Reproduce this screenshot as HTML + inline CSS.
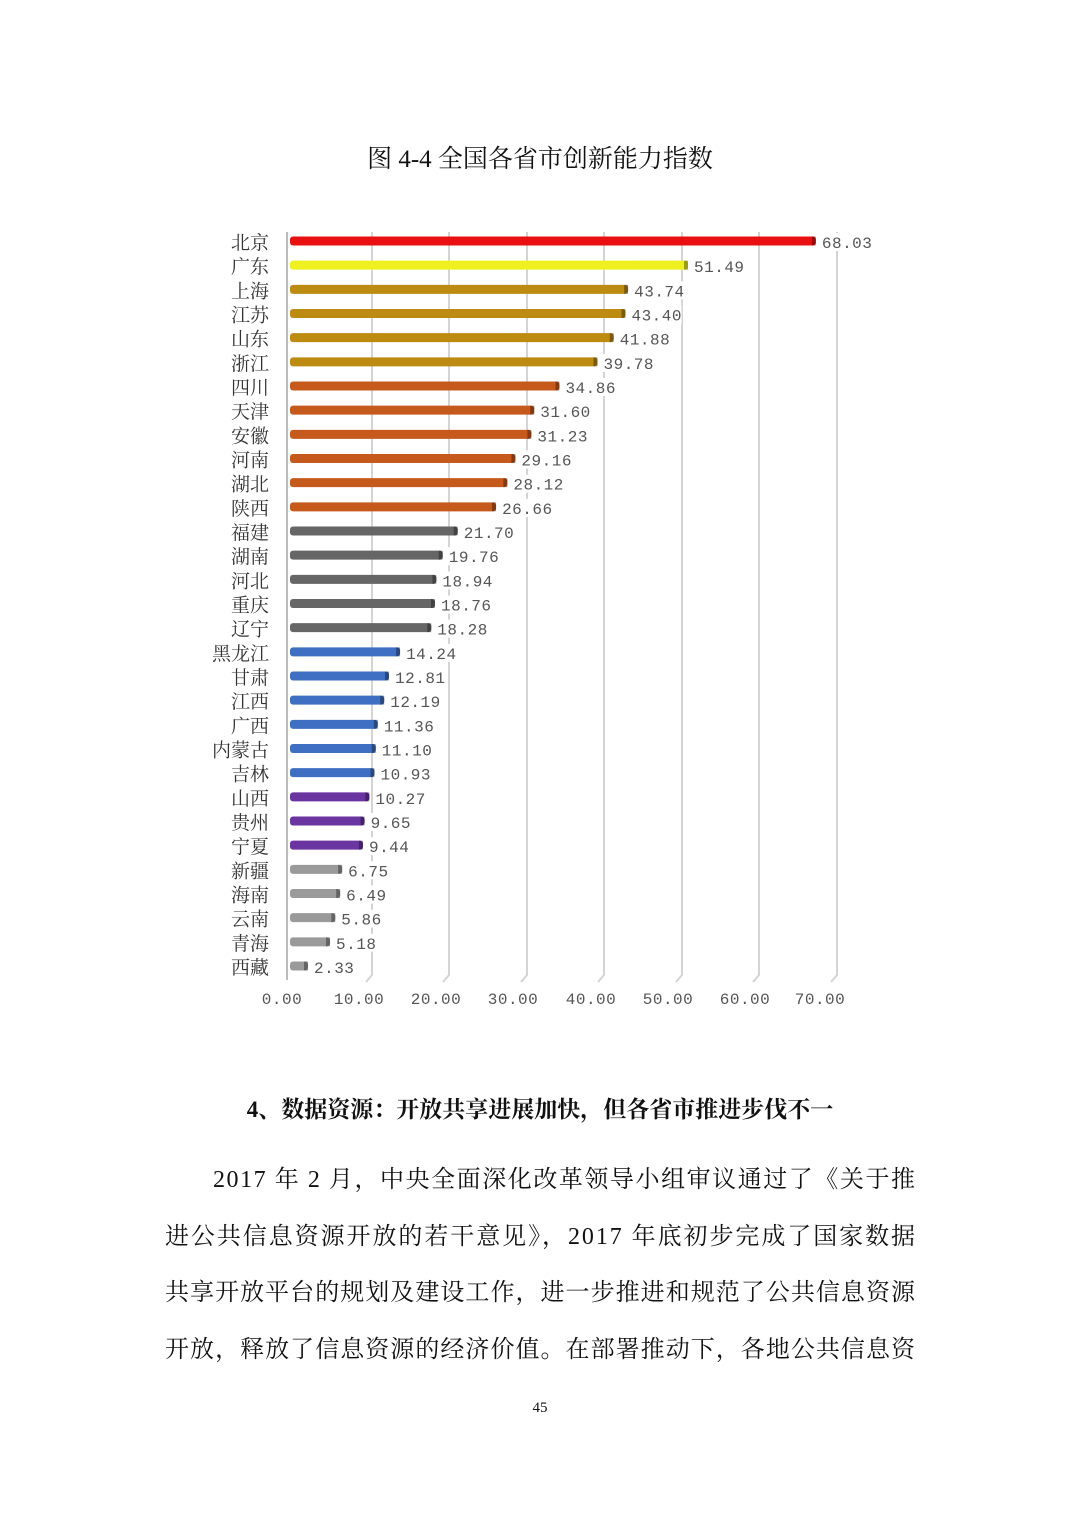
<!DOCTYPE html>
<html><head><meta charset="utf-8"><style>
html,body{margin:0;padding:0;background:#fff}
svg{display:block}
.c{font-family:"Liberation Serif","Noto Serif CJK SC",serif;font-size:19px;fill:#333}
.v{font-family:"Liberation Mono","Noto Sans CJK SC",monospace;font-size:16px;fill:#555;letter-spacing:0.5px}
.t{font-family:"Liberation Serif","Noto Serif CJK SC",serif;fill:#111}
</style></head><body>
<svg width="1080" height="1527" viewBox="0 0 1080 1527" xmlns="http://www.w3.org/2000/svg">
<text class="t" x="540" y="167" font-size="25" text-anchor="middle">图 4-4 全国各省市创新能力指数</text>
<g stroke="#d4d4d4" stroke-width="2" fill="none">
<line x1="287" y1="232" x2="287" y2="980" stroke="#bbb"/>
<polyline points="372,232 372,975 366,982"/>
<polyline points="449,232 449,975 443,982"/>
<polyline points="527,232 527,975 521,982"/>
<polyline points="604,232 604,975 598,982"/>
<polyline points="682,232 682,975 676,982"/>
<polyline points="759,232 759,975 753,982"/>
<polyline points="837,232 837,975 831,982"/>
</g>
<g id="bars"></g>
<g class="v" text-anchor="middle">
<text x="282" y="1004">0.00</text><text x="359" y="1004">10.00</text><text x="436" y="1004">20.00</text><text x="513" y="1004">30.00</text><text x="591" y="1004">40.00</text><text x="668" y="1004">50.00</text><text x="745" y="1004">60.00</text><text x="820" y="1004">70.00</text>
</g>
<text class="t" x="540" y="1117" font-size="23" font-weight="bold" text-anchor="middle">4、数据资源：开放共享进展加快，但各省市推进步伐不一</text>
<g class="t" font-size="24">
<text x="213" y="1187" textLength="702" lengthAdjust="spacing">2017 年 2 月，中央全面深化改革领导小组审议通过了《关于推</text>
<text x="165" y="1244" textLength="750" lengthAdjust="spacing">进公共信息资源开放的若干意见》，2017 年底初步完成了国家数据</text>
<text x="165" y="1300" textLength="750" lengthAdjust="spacing">共享开放平台的规划及建设工作，进一步推进和规范了公共信息资源</text>
<text x="165" y="1357" textLength="750" lengthAdjust="spacing">开放，释放了信息资源的经济价值。在部署推动下，各地公共信息资</text>
</g>
<text class="t" x="540" y="1412" font-size="15" text-anchor="middle">45</text>
</svg>
<script>
var d=[["北京",68.03,"#e81010"],["广东",51.49,"#eef020"],["上海",43.74,"#bd8a12"],["江苏",43.40,"#bd8a12"],["山东",41.88,"#bd8a12"],["浙江",39.78,"#bd8a12"],["四川",34.86,"#c65a1c"],["天津",31.60,"#c65a1c"],["安徽",31.23,"#c65a1c"],["河南",29.16,"#c65a1c"],["湖北",28.12,"#c65a1c"],["陕西",26.66,"#c65a1c"],["福建",21.70,"#666"],["湖南",19.76,"#666"],["河北",18.94,"#666"],["重庆",18.76,"#666"],["辽宁",18.28,"#666"],["黑龙江",14.24,"#3f6fc2"],["甘肃",12.81,"#3f6fc2"],["江西",12.19,"#3f6fc2"],["广西",11.36,"#3f6fc2"],["内蒙古",11.10,"#3f6fc2"],["吉林",10.93,"#3f6fc2"],["山西",10.27,"#6a35a0"],["贵州",9.65,"#6a35a0"],["宁夏",9.44,"#6a35a0"],["新疆",6.75,"#9a9a9a"],["海南",6.49,"#9a9a9a"],["云南",5.86,"#9a9a9a"],["青海",5.18,"#9a9a9a"],["西藏",2.33,"#9a9a9a"]];
var g=document.getElementById("bars"),s="";
var n=d.length;
for(var i=0;i<n;i++){var y=241+i*(966-241)/(n-1);var w=d[i][1]*7.73;
var lab=d[i][1].toFixed(2);var lw=lab.length*10+2;
s+='<rect x="290" y="'+(y-4.5)+'" width="'+w+'" height="9" rx="3" fill="'+d[i][2]+'"/>';
s+='<rect x="'+(286+w)+'" y="'+(y-4.5)+'" width="4" height="9" fill="#000" opacity="0.35"/>';
s+='<rect x="'+(294+w)+'" y="'+(y-8)+'" width="'+lw+'" height="18" fill="#fff"/>';
s+='<text class="c" x="269" y="'+(y+8)+'" text-anchor="end">'+d[i][0]+'</text>';
s+='<text class="v" x="'+(296+w)+'" y="'+(y+7)+'">'+lab+'</text>';}
g.innerHTML=s;
</script>
</body></html>
